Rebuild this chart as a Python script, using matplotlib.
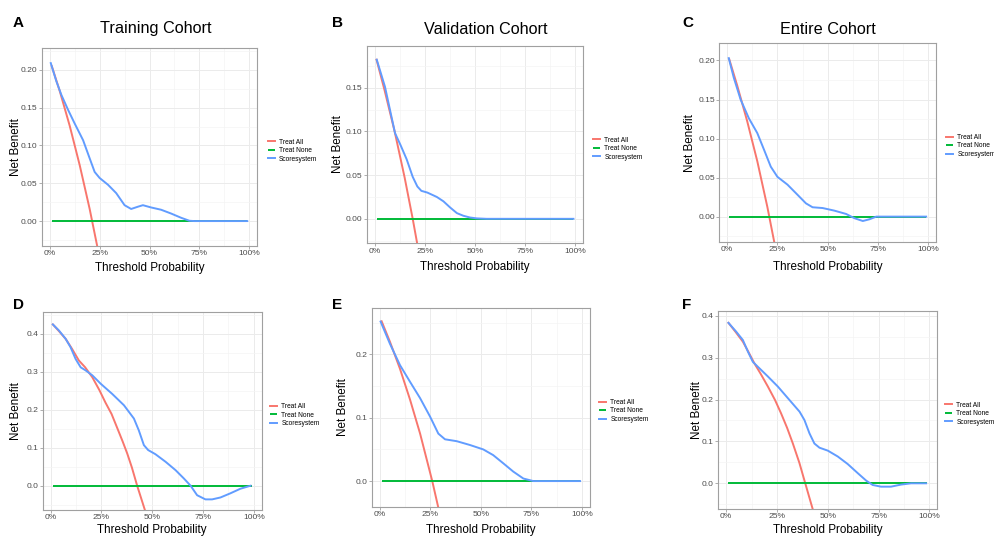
import matplotlib
matplotlib.use('Agg')
import matplotlib.pyplot as plt
from matplotlib.ticker import FixedLocator, FormatStrFormatter

plt.rcParams['font.family'] = ['Liberation Sans', 'DejaVu Sans']

# ---- data (threshold probability -> net benefit) ----
series_names = ['Treat All', 'Treat None', 'Scoresystem']
x_ticks = [0, 0.25, 0.5, 0.75, 1.0]
x_labels = ['0%', '25%', '50%', '75%', '100%']
none_x = [0.01, 0.99]
none_nb = [0.0, 0.0]

# A  Training cohort
a_all_x = [0.01, 0.05, 0.10, 0.15, 0.20, 0.25]
a_all_nb = [0.205, 0.172, 0.126, 0.074, 0.016, -0.049]
a_model_x = [0.005, 0.033, 0.058, 0.092, 0.125, 0.167, 0.20, 0.225, 0.25, 0.292, 0.333,
             0.375, 0.408, 0.442, 0.467, 0.508, 0.558, 0.608, 0.658, 0.70, 0.725, 0.99]
a_model_nb = [0.209, 0.185, 0.167, 0.147, 0.129, 0.107, 0.083, 0.065, 0.057, 0.048, 0.037,
              0.021, 0.016, 0.019, 0.021, 0.018, 0.015, 0.010, 0.0044, 0.0004, 0.0, 0.0]

# B  Validation cohort
b_all_x = [0.01, 0.05, 0.10, 0.15, 0.19, 0.22]
b_all_nb = [0.182, 0.147, 0.100, 0.047, 0.0, -0.038]
b_model_x = [0.011, 0.052, 0.102, 0.13, 0.16, 0.19, 0.213, 0.233, 0.263, 0.31, 0.343,
             0.376, 0.41, 0.442, 0.475, 0.509, 0.558, 0.99]
b_model_nb = [0.182, 0.151, 0.098, 0.084, 0.068, 0.048, 0.037, 0.032, 0.030, 0.025, 0.020,
              0.013, 0.0065, 0.0035, 0.0015, 0.0005, 0.0, 0.0]

# C  Entire cohort
c_all_x = [0.01, 0.05, 0.10, 0.15, 0.20, 0.24]
c_all_nb = [0.202, 0.168, 0.122, 0.071, 0.0125, -0.04]
c_model_x = [0.008, 0.033, 0.067, 0.108, 0.15, 0.183, 0.217, 0.25, 0.30, 0.35, 0.392,
             0.425, 0.475, 0.533, 0.592, 0.633, 0.675, 0.708, 0.742, 0.99]
c_model_nb = [0.203, 0.178, 0.150, 0.126, 0.107, 0.086, 0.064, 0.051, 0.041, 0.028, 0.017,
              0.012, 0.011, 0.0077, 0.0034, -0.002, -0.0056, -0.0034, 0.0, 0.0]

# D
d_all_x = [0.011, 0.04, 0.074, 0.105, 0.139, 0.17, 0.205, 0.24, 0.27, 0.30, 0.328, 0.355,
           0.377, 0.40, 0.426, 0.464]
d_all_nb = [0.425, 0.408, 0.387, 0.361, 0.33, 0.312, 0.286, 0.252, 0.219, 0.189, 0.152, 0.116,
            0.085, 0.048, 0.0, -0.064]
d_model_x = [0.011, 0.041, 0.074, 0.098, 0.123, 0.148, 0.172, 0.205, 0.246, 0.303, 0.361,
             0.41, 0.434, 0.459, 0.48, 0.516, 0.566, 0.615, 0.656, 0.689, 0.721, 0.762,
             0.795, 0.836, 0.885, 0.934, 0.984]
d_model_nb = [0.425, 0.409, 0.387, 0.365, 0.334, 0.312, 0.304, 0.291, 0.269, 0.242, 0.212,
              0.177, 0.146, 0.107, 0.094, 0.083, 0.063, 0.041, 0.019, 0.0, -0.025, -0.036,
              -0.036, -0.031, -0.020, -0.008, 0.0]

# E
e_all_x = [0.01, 0.05, 0.10, 0.15, 0.20, 0.26, 0.29]
e_all_nb = [0.2525, 0.221, 0.178, 0.129, 0.075, 0.0, -0.042]
e_model_x = [0.005, 0.051, 0.101, 0.15, 0.20, 0.249, 0.29, 0.323, 0.381, 0.446, 0.512,
             0.561, 0.611, 0.66, 0.71, 0.759, 0.99]
e_model_nb = [0.252, 0.217, 0.183, 0.157, 0.131, 0.102, 0.075, 0.066, 0.063, 0.057, 0.050,
              0.041, 0.028, 0.015, 0.004, 0.0, 0.0]

# F
f_all_x = [0.011, 0.045, 0.082, 0.11, 0.139, 0.17, 0.205, 0.24, 0.27, 0.30, 0.328, 0.36,
           0.389, 0.426]
f_all_nb = [0.383, 0.362, 0.338, 0.313, 0.286, 0.261, 0.231, 0.199, 0.167, 0.132, 0.095, 0.049,
            0.0, -0.062]
f_model_x = [0.011, 0.049, 0.082, 0.107, 0.131, 0.156, 0.205, 0.254, 0.311, 0.361, 0.385,
             0.41, 0.434, 0.459, 0.50, 0.549, 0.598, 0.648, 0.689, 0.721, 0.762, 0.811,
             0.861, 0.91, 0.984]
f_model_nb = [0.383, 0.362, 0.342, 0.314, 0.290, 0.278, 0.255, 0.231, 0.199, 0.171, 0.151,
              0.119, 0.095, 0.085, 0.078, 0.064, 0.046, 0.024, 0.0064, -0.004, -0.008, -0.008,
              -0.003, 0.0, 0.0]

titles = ['Training Cohort', 'Validation Cohort', 'Entire Cohort', None, None, None]
letters = ['A', 'B', 'C', 'D', 'E', 'F']

# ---- layout (pixels in the 994x537 image) ----
W, H = 994, 537
boxes = [(42, 257, 48, 246), (366.7, 583.3, 45.7, 243.3), (719.3, 936, 43.3, 242),
         (42.7, 261.7, 312.3, 510), (371.7, 590, 308.3, 506.7), (718.3, 937.3, 310.7, 508.7)]
ylims = [(-0.033, 0.229), (-0.028, 0.198), (-0.0325, 0.222),
         (-0.064, 0.457), (-0.0405, 0.273), (-0.0606, 0.412)]
yticks = [[0, 0.05, 0.10, 0.15, 0.20], [0, 0.05, 0.10, 0.15], [0, 0.05, 0.10, 0.15, 0.20],
          [0, 0.1, 0.2, 0.3, 0.4], [0, 0.1, 0.2], [0, 0.1, 0.2, 0.3, 0.4]]
ylab_x = [16, 338, 690, 16, 343, 697]
xlab_y = [268, 267, 267, 530, 530, 530.5]
title_x = [155.7, 485.7, 828]
letter_pos = [(18.3, 23.3), (337.5, 23.3), (687.5, 23.3), (18.3, 305.3), (337, 304.6), (686.7, 304.6)]
legend_pos = [(267.7, 150.7), (593, 148.7), (946, 146), (270, 415.3), (599, 411), (945, 413.7)]

panel_data = [(a_all_x, a_all_nb, a_model_x, a_model_nb),
              (b_all_x, b_all_nb, b_model_x, b_model_nb),
              (c_all_x, c_all_nb, c_model_x, c_model_nb),
              (d_all_x, d_all_nb, d_model_x, d_model_nb),
              (e_all_x, e_all_nb, e_model_x, e_model_nb),
              (f_all_x, f_all_nb, f_model_x, f_model_nb)]

col_all = '#F8766D'
col_none = '#00BA38'
col_model = '#619CFF'

fig = plt.figure(figsize=(W / 100, H / 100), dpi=100)

for i in range(6):
    l, r, t, b = boxes[i]
    ax = fig.add_axes([l / W, 1 - b / H, (r - l) / W, (b - t) / H])
    all_x, all_nb, mod_x, mod_nb = panel_data[i]

    l1, = ax.plot(all_x, all_nb, color=col_all, lw=1.4, solid_joinstyle='round')
    l2, = ax.plot(none_x, none_nb, color=col_none, lw=1.4, solid_capstyle='butt')
    l3, = ax.plot(mod_x, mod_nb, color=col_model, lw=1.4, solid_joinstyle='round')

    ax.set_xlim(-0.039, 1.039)
    ax.set_ylim(*ylims[i])
    ax.set_xticks(x_ticks)
    ax.set_xticklabels(x_labels)
    ax.set_yticks(yticks[i])
    step = yticks[i][1] - yticks[i][0]
    ax.yaxis.set_minor_locator(FixedLocator([v + step / 2 for v in [yticks[i][0] - step] + yticks[i]]))
    ax.xaxis.set_minor_locator(FixedLocator([0.125, 0.375, 0.625, 0.875]))
    ax.yaxis.set_major_formatter(FormatStrFormatter('%.2f' if i < 3 else '%.1f'))

    ax.grid(which='major', color='#EBEBEB', lw=0.7)
    ax.grid(which='minor', color='#F4F4F4', lw=0.5)
    ax.set_axisbelow(True)
    for sp in ax.spines.values():
        sp.set_color('#A0A0A0')
        sp.set_linewidth(0.8)
    ax.tick_params(which='major', length=2, width=0.6, color='#A0A0A0',
                   labelsize=6.1, labelcolor='#4D4D4D', pad=1.2)
    ax.tick_params(which='minor', length=0)

    ax.legend([l1, l2, l3], series_names, loc='center left',
              bbox_to_anchor=(legend_pos[i][0] / W, 1 - legend_pos[i][1] / H),
              bbox_transform=fig.transFigure, frameon=False, fontsize=4.8,
              handlelength=1.1, handletextpad=0.6, labelspacing=0.22,
              borderpad=0, borderaxespad=0)

    fig.text(ylab_x[i] / W, 1 - (t + b) / 2 / H, 'Net Benefit', rotation=90,
             ha='center', va='center', fontsize=8.4)
    fig.text((l + r) / 2 / W, 1 - xlab_y[i] / H, 'Threshold Probability',
             ha='center', va='center', fontsize=8.4)
    if titles[i]:
        fig.text(title_x[i] / W, 1 - 29 / H, titles[i], ha='center', va='center', fontsize=11.7)
    fig.text(letter_pos[i][0] / W, 1 - letter_pos[i][1] / H, letters[i], ha='center',
             va='center', fontsize=11, fontweight='bold')

fig.savefig('out.png', dpi=100)
